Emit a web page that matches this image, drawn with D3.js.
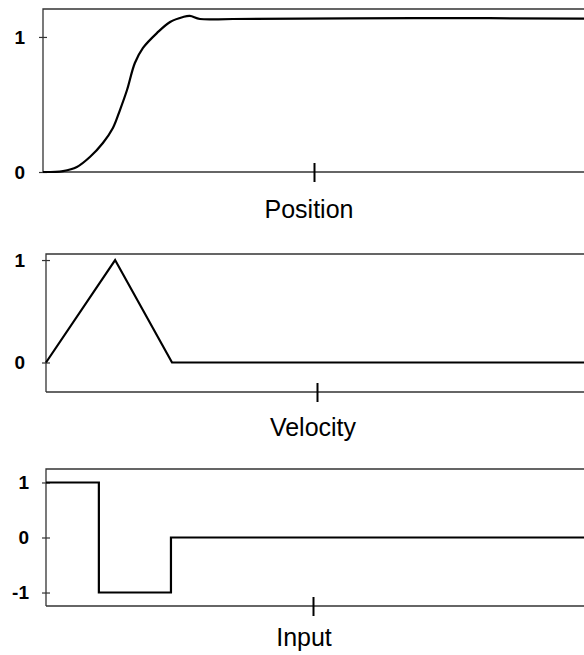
<!DOCTYPE html>
<html>
<head>
<meta charset="utf-8">
<script src="https://cdn.jsdelivr.net/npm/d3@7"></script>
<style>
  body { margin: 0; background: #fff; }
  svg { display: block; font-family: "Liberation Sans", Arial, sans-serif; }
</style>
</head>
<body>
<svg id="chart" width="584" height="655"></svg>
<script>
// time is in units of the single x tick (tick sits at t = 1)
var posTime  = [0, 0.074, 0.125, 0.173, 0.221, 0.258, 0.284, 0.310, 0.339, 0.369, 0.421, 0.469, 0.517, 0.542, 0.579, 0.701, 1.369, 2.05];
var posValue = [0, 0.007, 0.037, 0.111, 0.215, 0.326, 0.459, 0.607, 0.807, 0.919, 1.030, 1.111, 1.148, 1.156, 1.133, 1.133, 1.140, 1.135];

var velTime  = [0, 0.255, 0.465, 2.05];
var velValue = [0, 1, 0, 0];

var inTime   = [0, 0.198, 0.198, 0.468, 0.468, 2.05];
var inValue  = [1, 1, -1, -1, 0, 0];

var xTicks = [1];
var posTicks = [0, 1];
var velTicks = [0, 1];
var inTicks = [-1, 0, 1];

var svg = d3.select("#chart");

// panel boxes (pixels), y domain so that the value lines land where the original has them
var panels = [
  { title: "Position", time: posTime, value: posValue, ticks: posTicks,
    left: 43, top: 9, width: 542, height: 163, ydom: [0, 1.207],
    labelX: 309, labelY: 218, tickLabelX: 25, curve: d3.curveCatmullRom.alpha(0.5) },
  { title: "Velocity", time: velTime, value: velValue, ticks: velTicks,
    left: 46, top: 254, width: 542, height: 138, ydom: [-0.288, 1.059],
    labelX: 313, labelY: 436, tickLabelX: 25, curve: d3.curveLinear },
  { title: "Input", time: inTime, value: inValue, ticks: inTicks,
    left: 46, top: 469, width: 534, height: 137, ydom: [-1.245, 1.245],
    labelX: 304, labelY: 646, tickLabelX: 29, curve: d3.curveLinear }
];

panels.forEach(function(p) {
  var x = d3.scaleLinear().domain([0, 2]).range([0, p.width]);
  var y = d3.scaleLinear().domain(p.ydom).range([p.height, 0]);

  var g = svg.append("g")
    .attr("transform", "translate(" + p.left + "," + p.top + ")");

  // frame (top + left edge); right edge runs off the page
  g.append("path")
    .attr("d", "M" + (p.width + 20) + ",0H0V" + p.height)
    .attr("fill", "none")
    .attr("stroke", "#333")
    .attr("stroke-width", 1.3);

  // x axis: bottom edge with one crossing tick, no labels
  var xa = g.append("g")
    .attr("transform", "translate(0," + p.height + ")")
    .call(d3.axisBottom(x).tickValues(xTicks).tickSize(10).tickFormat(""));
  xa.select(".domain").attr("d", "M0,0H" + (p.width + 20)).attr("stroke", "#333").attr("stroke-width", 1.3);
  xa.selectAll(".tick line").attr("y1", -9).attr("y2", 10).attr("stroke", "#000").attr("stroke-width", 2);

  // y axis: small ticks across the left edge, labels well to the left
  var ya = g.append("g")
    .call(d3.axisLeft(y).tickValues(p.ticks).tickSize(4)
      .tickPadding(p.left - p.tickLabelX - 4)
      .tickFormat(function(d) { return String(d); }));
  ya.attr("font-size", 19).attr("font-family", "Liberation Sans, Arial, sans-serif");
  ya.select(".domain").remove();
  ya.selectAll(".tick line").attr("x1", -4).attr("x2", 4).attr("stroke", "#333").attr("stroke-width", 1.2);
  ya.selectAll(".tick text")
    .style("font-size", "19px")
    .style("font-weight", "bold")
    .attr("fill", "#000");

  var pts = p.time.map(function(t, i) { return [t, p.value[i]]; });
  var line = d3.line()
    .x(function(d) { return x(d[0]); })
    .y(function(d) { return y(d[1]); })
    .curve(p.curve);

  g.append("path")
    .datum(pts)
    .attr("d", line)
    .attr("fill", "none")
    .attr("stroke", "#000")
    .attr("stroke-width", 2.2)
    .attr("stroke-linejoin", "miter");

  svg.append("text")
    .attr("x", p.labelX)
    .attr("y", p.labelY)
    .attr("text-anchor", "middle")
    .attr("font-size", 25)
    .attr("fill", "#000")
    .text(p.title);
});
</script>
</body>
</html>
